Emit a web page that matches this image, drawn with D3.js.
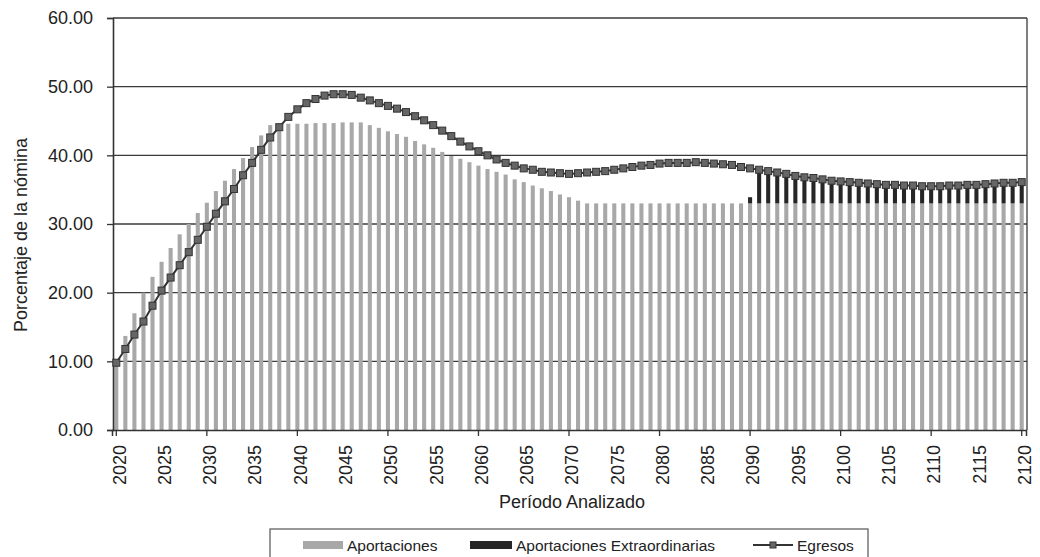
<!DOCTYPE html>
<html><head><meta charset="utf-8">
<script src="https://cdn.jsdelivr.net/npm/d3@7"></script>
<style>
html,body{margin:0;padding:0;background:#fff;}
svg text{font-family:"Liberation Sans",Arial,sans-serif;fill:#222;}
</style></head>
<body><svg id="chart" width="1040" height="557"></svg>
<script>
const startYear = 2020, endYear = 2120;
const years = d3.range(startYear, endYear + 1);
const yTicks = [0, 10, 20, 30, 40, 50, 60];
const xLabelYears = [2020,2025,2030,2035,2040,2045,2050,2055,2060,2065,2070,2075,2080,2085,2090,2095,2100,2105,2110,2115,2120];

const aportaciones = [
 10.0,13.7,17.0,20.0,22.3,24.5,26.5,28.5,30.0,31.6,
 33.1,34.8,36.3,38.0,39.6,41.2,42.9,44.4,44.5,44.6,
 44.6,44.6,44.7,44.7,44.7,44.8,44.8,44.8,44.4,44.0,
 43.5,43.1,42.7,42.1,41.6,41.1,40.5,39.9,39.5,39.0,
 38.5,38.0,37.6,37.2,36.5,36.1,35.6,35.2,34.8,34.3,
 33.9,33.4,33.0,33.0,33.0,33.0,33.0,33.0,33.0,33.0,
 33.0,33.0,33.0,33.0,33.0,33.0,33.0,33.0,33.0,33.0,
 33.0,33.0,33.0,33.0,33.0,33.0,33.0,33.0,33.0,33.0,
 33.0,33.0,33.0,33.0,33.0,33.0,33.0,33.0,33.0,33.0,
 33.0,33.0,33.0,33.0,33.0,33.0,33.0,33.0,33.0,33.0,
 33.0];

const extraordinarias = [
 0,0,0,0,0,0,0,0,0,0,
 0,0,0,0,0,0,0,0,0,0,
 0,0,0,0,0,0,0,0,0,0,
 0,0,0,0,0,0,0,0,0,0,
 0,0,0,0,0,0,0,0,0,0,
 0,0,0,0,0,0,0,0,0,0,
 0,0,0,0,0,0,0,0,0,0,
 0.9,4.9,4.7,4.5,4.3,4.0,3.8,3.7,3.5,3.3,
 3.2,3.1,3.0,2.9,2.8,2.7,2.7,2.6,2.6,2.5,
 2.5,2.5,2.6,2.6,2.7,2.7,2.8,2.9,3.0,3.0,
 3.1];

const egresos = [
 9.8,11.8,13.9,15.8,18.1,20.3,22.2,24.0,25.9,27.7,
 29.6,31.5,33.3,35.1,37.1,38.9,40.8,42.6,44.1,45.6,
 46.7,47.6,48.2,48.7,48.9,48.9,48.8,48.4,48.0,47.6,
 47.2,46.8,46.3,45.7,45.1,44.4,43.6,42.8,42.0,41.3,
 40.6,40.0,39.4,38.9,38.5,38.1,37.9,37.6,37.5,37.4,
 37.3,37.4,37.5,37.6,37.7,37.9,38.1,38.3,38.5,38.6,
 38.8,38.9,38.9,38.9,39.0,38.9,38.8,38.7,38.6,38.3,
 38.1,37.9,37.7,37.5,37.3,37.0,36.8,36.7,36.5,36.3,
 36.2,36.1,36.0,35.9,35.8,35.7,35.7,35.6,35.6,35.5,
 35.5,35.5,35.6,35.6,35.7,35.7,35.8,35.9,36.0,36.0,
 36.1];

const seriesNames = ["Aportaciones", "Aportaciones Extraordinarias", "Egresos"];
const colors = {aport: "#a8a8a8", extra: "#262626", line: "#333333", marker: "#666666"};

const rows = years.map((y, i) => ({year: y, aport: aportaciones[i], extra: extraordinarias[i], egr: egresos[i]}));

const svg = d3.select("#chart");
const L = 113, R = 1027, T = 18, B = 430;

const x = d3.scaleBand().domain(years).range([L - 1, R - 1]).paddingInner(0.55).paddingOuter(0.25);
const y = d3.scaleLinear().domain([0, 60]).range([B, T]);
const cx = d => x(d) + x.bandwidth() / 2;

// gridlines
svg.append("g").selectAll("line").data(yTicks.filter(t => t > 0)).join("line")
  .attr("x1", L).attr("x2", R).attr("y1", d => y(d)).attr("y2", d => y(d))
  .attr("stroke", "#3a3a3a").attr("stroke-width", 1.3);
// right border
svg.append("line").attr("x1", R).attr("x2", R).attr("y1", T).attr("y2", B)
  .attr("stroke", "#3a3a3a").attr("stroke-width", 1.3);

// stacked bars
const stack = d3.stack().keys(["aport", "extra"])(rows);
svg.append("g").selectAll("g").data(stack).join("g")
  .attr("fill", d => d.key === "aport" ? colors.aport : colors.extra)
  .selectAll("rect").data(d => d).join("rect")
  .attr("x", d => x(d.data.year))
  .attr("width", x.bandwidth())
  .attr("y", d => y(d[1]))
  .attr("height", d => Math.max(0, y(d[0]) - y(d[1])));

// Y axis
const yAxis = d3.axisLeft(y).tickValues(yTicks).tickSize(6).tickPadding(14).tickFormat(d3.format(".2f"));
const ya = svg.append("g").attr("transform", `translate(${L},0)`).call(yAxis);
ya.select(".domain").attr("stroke", "#333").attr("stroke-width", 1.6);
ya.selectAll(".tick line").attr("stroke", "#333").attr("stroke-width", 1.3);
ya.selectAll("text").attr("font-size", 18).attr("fill", "#222");

// X axis
const xAxis = d3.axisBottom(x).tickValues(years.filter(v => (v - startYear) % 10 === 0)).tickSize(6).tickFormat("");
const xa = svg.append("g").attr("transform", `translate(0,${B})`).call(xAxis);
xa.select(".domain").attr("stroke", "#333").attr("stroke-width", 1.5);
xa.selectAll(".tick line").attr("stroke", "#333").attr("stroke-width", 1.3);

svg.append("g").selectAll("text").data(xLabelYears).join("text")
  .attr("transform", d => `translate(${cx(d) + 3},445) rotate(-90)`)
  .attr("text-anchor", "end").attr("dy", "0.35em")
  .attr("font-size", 18).text(d => d);

// Egresos line
const line = d3.line().x(d => cx(d.year)).y(d => y(d.egr));
svg.append("path").datum(rows).attr("d", line)
  .attr("fill", "none").attr("stroke", colors.line).attr("stroke-width", 2);
svg.append("g").selectAll("rect").data(rows).join("rect")
  .attr("x", d => cx(d.year) - 3.5).attr("y", d => y(d.egr) - 3.5)
  .attr("width", 7).attr("height", 7)
  .attr("fill", colors.marker).attr("stroke", "#333").attr("stroke-width", 1);

// axis titles
svg.append("text").attr("x", 572).attr("y", 508).attr("text-anchor", "middle")
  .attr("font-size", 18).text("Período Analizado");
svg.append("text").attr("transform", "translate(27,235) rotate(-90)").attr("text-anchor", "middle")
  .attr("font-size", 18).text("Porcentaje de la nómina");

// legend
const lg = svg.append("g");
lg.append("rect").attr("x", 270).attr("y", 529).attr("width", 598).attr("height", 40)
  .attr("fill", "#fff").attr("stroke", "#555").attr("stroke-width", 1.2);
lg.append("rect").attr("x", 303).attr("y", 541).attr("width", 40).attr("height", 8).attr("fill", colors.aport);
lg.append("text").attr("x", 347).attr("y", 551).attr("font-size", 15.5).text(seriesNames[0]);
lg.append("rect").attr("x", 470).attr("y", 541).attr("width", 42).attr("height", 8).attr("fill", colors.extra);
lg.append("text").attr("x", 516).attr("y", 551).attr("font-size", 15.5).text(seriesNames[1]);
lg.append("line").attr("x1", 753).attr("x2", 793).attr("y1", 545).attr("y2", 545)
  .attr("stroke", colors.line).attr("stroke-width", 2);
lg.append("rect").attr("x", 770).attr("y", 542).attr("width", 6).attr("height", 6)
  .attr("fill", colors.marker).attr("stroke", "#333");
lg.append("text").attr("x", 797).attr("y", 551).attr("font-size", 15.5).text(seriesNames[2]);
</script></body></html>
